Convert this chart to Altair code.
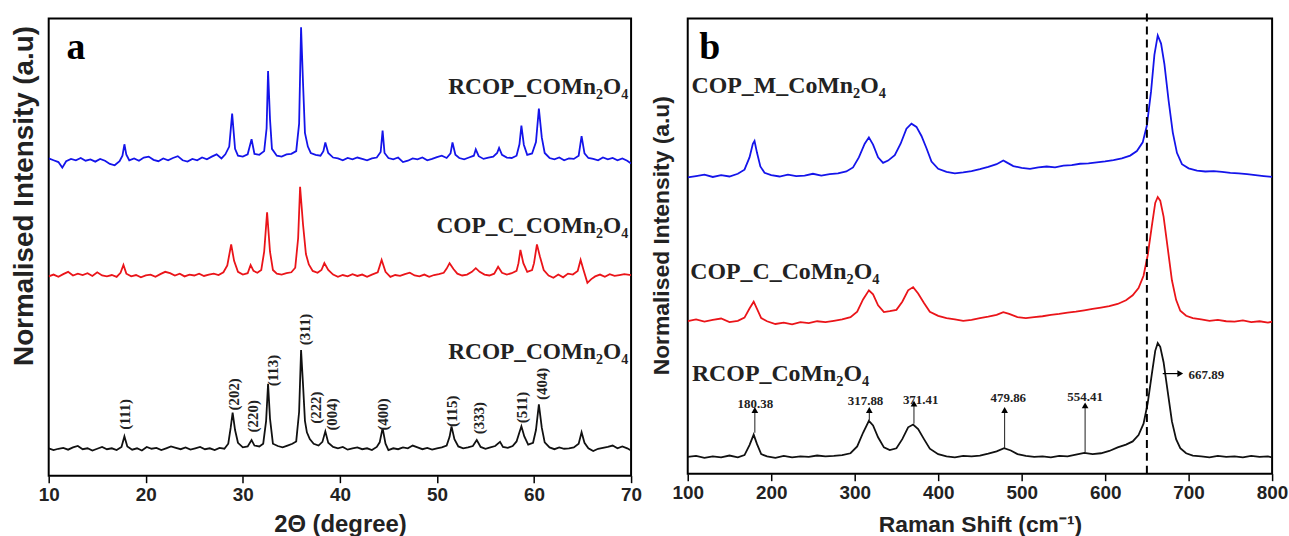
import altair as alt
import pandas as pd

# ---------------- Panel a: XRD ----------------
xrd_blue_x = [10.0, 10.5, 11.0, 11.4, 11.8, 12.3, 12.8, 13.3, 13.8, 14.3, 14.8, 15.3, 15.8, 16.3, 16.8, 17.3, 17.6, 17.8, 18.0, 18.3, 18.8, 19.3, 19.8, 20.3, 20.8, 21.3, 21.8, 22.3, 22.8, 23.3, 23.8, 24.3, 24.8, 25.3, 25.8, 26.3, 26.8, 27.3, 27.8, 28.2, 28.6, 28.9, 29.2, 29.5, 30.0, 30.5, 30.9, 31.2, 31.7, 32.2, 32.45, 32.6, 32.8, 33.0, 33.5, 34.0, 34.5, 35.0, 35.5, 35.8, 36.0, 36.2, 36.4, 36.7, 37.0, 37.5, 38.0, 38.3, 38.5, 38.8, 39.3, 39.8, 40.3, 40.8, 41.3, 41.8, 42.3, 42.8, 43.3, 43.8, 44.2, 44.4, 44.6, 45.0, 45.5, 46.0, 46.5, 47.0, 47.5, 48.0, 48.5, 49.0, 49.5, 50.0, 50.5, 51.0, 51.4, 51.6, 51.9, 52.3, 52.8, 53.3, 53.8, 54.0, 54.3, 54.8, 55.3, 55.8, 56.2, 56.4, 56.7, 57.2, 57.7, 58.2, 58.5, 58.7, 58.95, 59.3, 59.8, 60.2, 60.5, 60.8, 61.1, 61.6, 62.1, 62.6, 63.1, 63.6, 64.1, 64.6, 64.9, 65.2, 65.6, 66.1, 66.6, 67.1, 67.6, 68.1, 68.6, 69.1, 69.6, 70.0]
xrd_blue_y = [69.4, 69.0, 68.6, 67.4, 68.8, 69.3, 69.0, 69.5, 68.9, 69.2, 68.7, 69.3, 68.9, 68.2, 67.9, 68.8, 70.0, 72.5, 70.2, 69.0, 69.4, 68.9, 69.6, 69.8, 69.1, 68.8, 69.4, 69.0, 69.5, 69.9, 69.0, 68.7, 69.3, 69.0, 69.6, 69.2, 69.8, 70.3, 69.4, 70.3, 72.0, 79.2, 71.5, 70.0, 69.8, 70.3, 73.6, 70.4, 70.2, 71.0, 76.0, 88.5, 78.0, 71.5, 70.0, 69.8, 70.3, 70.4, 71.0, 77.0, 98.1, 86.0, 75.0, 72.0, 70.6, 70.2, 70.0, 71.0, 72.9, 70.6, 69.6, 69.4, 69.0, 69.5, 69.2, 69.6, 69.3, 69.0, 69.4, 69.6, 70.8, 75.5, 70.6, 69.5, 69.2, 69.6, 68.6, 68.9, 69.4, 69.2, 69.6, 69.0, 69.3, 69.7, 70.0, 69.5, 70.5, 72.9, 70.2, 69.5, 69.2, 69.6, 70.0, 71.4, 69.9, 69.3, 69.6, 69.8, 70.6, 71.7, 70.2, 69.6, 69.5, 70.0, 72.5, 76.6, 72.4, 70.2, 70.5, 73.0, 80.3, 74.0, 70.6, 69.5, 69.2, 69.6, 69.0, 69.4, 69.3, 70.0, 74.3, 70.5, 69.5, 69.3, 69.0, 69.6, 69.2, 69.5, 69.0, 69.4, 68.9, 68.3]

xrd_red_x = [10.0, 10.5, 11.0, 11.5, 12.0, 12.5, 13.0, 13.5, 14.0, 14.5, 15.0, 15.5, 16.0, 16.5, 17.0, 17.4, 17.7, 18.0, 18.5, 19.0, 19.5, 20.0, 20.5, 21.0, 21.5, 22.0, 22.5, 23.0, 23.5, 24.0, 24.5, 25.0, 25.5, 26.0, 26.5, 27.0, 27.5, 28.0, 28.4, 28.8, 29.1, 29.5, 30.0, 30.5, 30.8, 31.1, 31.5, 31.9, 32.2, 32.5, 32.8, 33.1, 33.5, 34.0, 34.5, 35.0, 35.4, 35.7, 35.9, 36.2, 36.5, 36.8, 37.2, 37.7, 38.1, 38.4, 38.8, 39.3, 39.8, 40.3, 40.8, 41.3, 41.8, 42.3, 42.8, 43.3, 43.9, 44.3, 44.7, 45.2, 45.7, 46.2, 46.7, 47.2, 47.7, 48.2, 48.7, 49.2, 49.7, 50.2, 50.7, 51.0, 51.3, 51.7, 52.1, 52.6, 53.1, 53.6, 54.0, 54.4, 54.9, 55.4, 55.9, 56.3, 56.7, 57.2, 57.7, 58.2, 58.4, 58.6, 58.9, 59.3, 59.8, 60.0, 60.3, 60.6, 61.0, 61.5, 62.0, 62.5, 63.0, 63.5, 64.0, 64.5, 64.8, 65.1, 65.5, 65.9, 66.3, 66.8, 67.3, 67.8, 68.3, 68.8, 69.3, 70.0]
xrd_red_y = [43.6, 44.0, 43.5, 44.1, 44.6, 43.8, 44.2, 43.9, 44.3, 43.7, 44.5, 43.8, 43.6, 43.9, 43.5, 44.4, 46.1, 44.2, 43.6, 43.9, 43.4, 43.8, 44.0, 43.5, 44.1, 44.6, 44.3, 43.8, 44.2, 43.6, 44.0, 43.8, 44.2, 43.7, 44.0, 44.2, 43.9, 44.5, 46.0, 50.6, 47.0, 44.6, 44.0, 44.3, 46.1, 44.8, 44.4, 45.0, 49.0, 57.6, 49.0, 45.0, 44.2, 44.0, 44.3, 44.5, 45.5, 52.0, 63.2, 55.0, 48.5, 46.2, 44.8, 44.4, 45.0, 46.5, 45.0, 44.0, 43.5, 43.9, 43.6, 44.1, 43.7, 44.0, 43.5, 44.0, 44.5, 47.2, 44.6, 43.5, 43.9, 43.7, 44.1, 44.4, 43.8, 43.6, 44.0, 43.5, 43.9, 44.1, 44.4, 45.3, 46.5, 45.2, 44.2, 43.8, 44.0, 44.6, 45.4, 44.6, 44.0, 43.8, 44.2, 45.7, 44.4, 44.0, 44.3, 44.8, 46.5, 49.4, 46.5, 44.6, 45.0, 46.5, 50.6, 48.0, 45.0, 43.8, 43.3, 44.0, 43.4, 44.2, 44.0, 44.8, 47.2, 45.0, 42.2, 43.0, 43.6, 44.0, 43.5, 44.1, 43.7, 43.9, 44.1, 43.9]

xrd_black_x = [10.0, 10.5, 11.0, 11.5, 12.0, 12.5, 13.0, 13.5, 14.0, 14.5, 15.0, 15.5, 16.0, 16.5, 17.0, 17.5, 17.8, 18.1, 18.6, 19.1, 19.6, 20.1, 20.6, 21.1, 21.6, 22.1, 22.6, 23.1, 23.6, 24.1, 24.6, 25.1, 25.6, 26.1, 26.6, 27.1, 27.6, 28.1, 28.5, 28.75, 28.95, 29.2, 29.5, 30.0, 30.5, 30.9, 31.2, 31.7, 32.1, 32.4, 32.6, 32.8, 33.1, 33.6, 34.1, 34.6, 35.1, 35.5, 35.8, 36.0, 36.2, 36.4, 36.6, 36.9, 37.3, 37.8, 38.2, 38.5, 38.8, 39.3, 39.8, 40.3, 40.8, 41.3, 41.8, 42.3, 42.8, 43.3, 43.8, 44.1, 44.4, 44.7, 45.0, 45.5, 46.0, 46.5, 47.0, 47.5, 48.0, 48.5, 49.0, 49.5, 50.0, 50.5, 51.0, 51.3, 51.5, 51.8, 52.2, 52.7, 53.2, 53.7, 54.1, 54.5, 55.0, 55.5, 56.0, 56.5, 56.8, 57.3, 57.8, 58.2, 58.5, 58.7, 59.0, 59.4, 59.9, 60.2, 60.5, 60.8, 61.1, 61.6, 62.1, 62.6, 63.1, 63.6, 64.1, 64.6, 64.9, 65.2, 65.6, 66.1, 66.6, 67.1, 67.6, 68.1, 68.6, 69.1, 69.6, 70.0]
xrd_black_y = [6.0, 5.6, 5.9, 6.1, 5.7, 6.2, 6.5, 5.8, 6.0, 5.5, 5.9, 6.3, 5.8, 6.0, 5.6, 6.3, 8.6, 6.4, 5.7, 6.0, 5.5, 6.3, 5.9, 6.1, 5.6, 6.0, 6.4, 6.1, 5.8, 6.2, 5.7, 6.0, 6.3, 5.8, 6.0, 5.6, 6.1, 5.9, 7.0, 10.5, 13.8, 10.0, 7.2, 6.2, 6.4, 7.8, 6.6, 6.4, 7.0, 12.0, 20.1, 12.5, 7.0, 6.5, 6.2, 6.6, 7.0, 7.5, 14.0, 27.5, 20.0, 12.0, 9.5, 8.0, 7.0, 6.6, 7.4, 9.7, 7.2, 6.3, 6.0, 6.3, 5.7, 6.0, 6.2, 5.8, 6.0, 5.6, 6.3, 7.3, 10.4, 7.0, 5.6, 6.0, 5.8, 6.2, 6.0, 6.6, 6.2, 5.8, 6.1, 5.7, 6.0, 6.2, 6.6, 8.5, 10.8, 8.0, 6.4, 6.0, 6.2, 6.5, 7.8, 6.3, 5.9, 6.2, 6.5, 7.4, 6.3, 6.1, 6.5, 7.5, 9.5, 10.8, 8.6, 6.8, 7.2, 10.0, 15.6, 10.5, 7.3, 6.2, 5.8, 6.2, 5.9, 6.0, 6.2, 7.0, 9.5, 7.2, 6.0, 5.4, 5.9, 6.1, 6.3, 6.6, 6.0, 6.4, 6.0, 5.5]

hkl_labels = ["(111)", "(202)", "(220)", "(113)", "(311)", "(222)", "(004)", "(400)", "(115)", "(333)", "(511)", "(404)"]
hkl_x = [17.9, 29.1, 31.05, 33.1, 36.4, 37.5, 39.2, 44.4, 51.6, 54.3, 58.8, 60.8]
hkl_y = [13.4, 17.8, 13.0, 23.0, 32.0, 14.9, 13.4, 13.4, 14.1, 12.6, 14.9, 20.1]

xrd_names = ["RCOP_COMn\u2082O\u2084", "COP_C_COMn\u2082O\u2084", "RCOP_COMn\u2082O\u2084"]
xrd_name_y = [85.1, 54.6, 27.1]
xrd_ticks = [10, 20, 30, 40, 50, 60, 70]

# ---------------- Panel b: Raman ----------------
ram_blue_x = [100, 110, 120, 130, 140, 150, 160, 168, 174, 178, 180, 183, 187, 192, 200, 210, 220, 230, 240, 250, 260, 270, 280, 290, 298, 305, 312, 317, 322, 328, 334, 340, 348, 355, 362, 368, 374, 380, 386, 392, 400, 410, 420, 430, 440, 450, 460, 470, 478, 482, 490, 500, 510, 520, 530, 540, 550, 560, 570, 580, 590, 600, 610, 620, 630, 638, 645, 650, 655, 659, 663, 667, 671, 676, 681, 686, 692, 700, 710, 720, 730, 740, 750, 760, 770, 780, 790, 800]
ram_blue_y = [65.1, 65.4, 65.7, 65.2, 65.6, 65.3, 65.9, 66.8, 69.5, 72.5, 73.1, 70.5, 67.5, 66.1, 65.6, 65.3, 65.7, 65.4, 65.5, 65.9, 65.5, 65.8, 66.0, 66.4, 67.3, 69.5, 72.5, 73.9, 72.3, 69.5, 68.3, 68.8, 70.0, 72.5, 75.8, 76.9, 76.2, 74.2, 71.5, 68.6, 67.0, 66.3, 66.0, 66.2, 66.5, 66.9, 67.4, 68.0, 68.8, 68.4, 67.6, 67.2, 67.0, 67.3, 67.5, 67.3, 67.7, 67.8, 68.1, 68.2, 68.4, 68.6, 68.9, 69.3, 69.9, 70.9, 72.8, 76.5, 84.0, 92.0, 96.3, 94.5, 90.0, 82.0, 75.0, 70.5, 68.0, 67.1, 66.6, 66.4, 66.5, 66.3, 66.1, 66.0, 65.8, 65.6, 65.4, 65.2]

ram_red_x = [100, 110, 120, 130, 140, 150, 160, 168, 174, 179, 183, 188, 195, 205, 215, 225, 235, 245, 255, 265, 275, 285, 295, 303, 310, 317, 322, 328, 335, 342, 350, 357, 364, 370, 376, 383, 390, 400, 410, 420, 430, 440, 450, 460, 470, 478, 485, 495, 505, 515, 525, 535, 545, 555, 565, 575, 585, 595, 605, 615, 625, 633, 640, 646, 651, 656, 660, 663, 666, 670, 675, 680, 685, 690, 697, 705, 715, 725, 735, 745, 755, 765, 775, 785, 795, 800]
ram_red_y = [33.5, 33.9, 33.4, 33.8, 34.1, 33.3, 33.6, 34.3, 36.3, 37.8, 36.2, 34.2, 33.5, 32.9, 33.2, 32.8, 33.3, 33.1, 33.5, 33.3, 33.6, 33.9, 34.4, 35.6, 38.3, 40.3, 39.4, 37.0, 35.5, 35.7, 36.0, 37.8, 40.3, 41.0, 39.6, 37.5, 35.6, 34.7, 34.2, 33.9, 33.6, 33.8, 34.2, 34.5, 34.9, 35.5, 35.1, 34.4, 34.2, 34.4, 34.6, 34.9, 35.1, 35.4, 35.6, 35.9, 36.2, 36.5, 36.8, 37.3, 38.1, 39.2, 40.8, 43.5, 48.0, 54.5, 59.5, 60.8, 60.0, 56.5, 49.5, 42.5, 38.2, 35.8, 34.7, 34.2, 33.9, 33.6, 33.8, 33.5, 33.4, 33.7, 33.3, 33.5, 33.2, 33.4]

ram_black_x = [100, 110, 120, 130, 140, 150, 160, 168, 174, 179, 183, 188, 195, 205, 215, 225, 235, 245, 255, 265, 275, 285, 295, 303, 310, 317, 322, 328, 335, 342, 350, 357, 364, 370, 376, 383, 390, 400, 410, 420, 430, 440, 450, 460, 470, 479, 487, 495, 505, 515, 525, 535, 545, 555, 565, 575, 585, 595, 605, 615, 625, 633, 640, 646, 651, 656, 660, 663, 666, 670, 675, 680, 685, 690, 697, 705, 715, 725, 735, 745, 755, 765, 775, 785, 795, 800]
ram_black_y = [3.7, 3.9, 3.5, 3.8, 3.6, 4.0, 3.6, 4.1, 6.3, 8.6, 6.5, 4.3, 3.8, 3.5, 3.9, 3.6, 3.8, 3.7, 4.0, 3.8, 3.9, 4.1, 4.5, 6.0, 9.0, 11.6, 10.6, 8.0, 5.8, 5.2, 5.6, 7.6, 10.2, 10.8, 9.8, 7.6, 5.5, 4.3, 3.8, 3.6, 3.9, 3.8, 4.0, 4.4, 4.9, 5.6, 5.1, 4.3, 3.9, 3.7, 3.8, 3.6, 3.9, 3.8, 4.2, 4.6, 4.3, 4.5, 5.0, 5.8, 6.4, 7.1, 8.5, 11.0, 15.5, 22.0, 27.0, 28.7, 27.9, 24.5, 18.0, 11.5, 7.6, 5.6, 4.5, 4.0, 3.8, 3.6, 3.9, 3.7, 3.8, 3.6, 3.9, 3.7, 3.8, 3.6]

peak_labels = ["180.38", "317.88", "371.41", "479.86", "554.41"]
peak_label_x = [181, 313, 379, 484, 576]
peak_label_y = [15.4, 15.9, 16.2, 16.6, 16.9]
arrow_x = [180.4, 317.5, 371.0, 479.6, 576.0]
arrow_y0 = [9.0, 11.8, 11.0, 5.7, 4.7]
arrow_y1 = [14.0, 14.0, 15.4, 14.0, 15.0]
main_peak_label = "667.89"
main_arrow_x = [669, 690]
main_arrow_y = 22.0

ram_names = ["COP_M_CoMn\u2082O\u2084", "COP_C_CoMn\u2082O\u2084", "RCOP_CoMn\u2082O\u2084"]
ram_name_y = [85.1, 44.4, 22.0]
ram_ticks = [100, 200, 300, 400, 500, 600, 700, 800]
dashed_x = 650

BLUE = "#1414ea"
RED = "#ea1419"
BLACK = "#111111"
SERIF = "Liberation Serif"
SANS = "Liberation Sans"
LW = 1.8


def line_layer(xs, ys, color, xscale, yscale, xaxis, yaxis):
    df = pd.DataFrame({"x": xs, "y": ys})
    return alt.Chart(df).mark_line(color=color, strokeWidth=LW, clip=True).encode(
        x=alt.X("x:Q", scale=xscale, axis=xaxis),
        y=alt.Y("y:Q", scale=yscale, axis=yaxis),
    )


# ---------------- build panel a ----------------
xs_a = alt.Scale(domain=[10, 70], nice=False, zero=False)
ys = alt.Scale(domain=[0, 100], nice=False, zero=False)

xaxis_a = alt.Axis(values=xrd_ticks, title="2\u0398 (degree)", grid=False, domain=False,
                   tickSize=7, tickWidth=1.5, tickColor="black", labelFlush=False, labelOverlap=False,
                   labelFont=SANS, labelFontWeight="bold", labelFontSize=19, labelColor="#222",
                   labelPadding=3, titleFont=SANS, titleFontWeight="bold", titleFontSize=24,
                   titleColor="#222", titleY=49, titleBaseline="middle")
yaxis_a = alt.Axis(labels=False, ticks=False, domain=False, grid=False,
                   title="Normalised Intensity (a.u)", titleFont=SANS, titleFontWeight="bold",
                   titleFontSize=28, titleColor="#222", titleX=-24, titleY=178,
                   titleAngle=270, titleAlign="center", titleBaseline="middle")

la = [
    line_layer(xrd_blue_x, xrd_blue_y, BLUE, xs_a, ys, xaxis_a, yaxis_a),
    line_layer(xrd_red_x, xrd_red_y, RED, xs_a, ys, xaxis_a, yaxis_a),
    line_layer(xrd_black_x, xrd_black_y, BLACK, xs_a, ys, xaxis_a, yaxis_a),
]
hkl_df = pd.DataFrame({"x": hkl_x, "y": hkl_y, "t": hkl_labels})
la.append(alt.Chart(hkl_df).mark_text(font=SERIF, fontSize=15, fontWeight="bold", angle=270,
                                      color="#222", align="center", baseline="middle").encode(
    x=alt.X("x:Q", scale=xs_a), y=alt.Y("y:Q", scale=ys), text="t:N"))
nm_a = pd.DataFrame({"x": [69.7] * 3, "y": xrd_name_y, "t": xrd_names})
la.append(alt.Chart(nm_a).mark_text(font=SERIF, fontSize=23.5, fontWeight="bold", color="#222",
                                    align="right", baseline="middle").encode(
    x=alt.X("x:Q", scale=xs_a), y=alt.Y("y:Q", scale=ys), text="t:N"))
la.append(alt.Chart(pd.DataFrame({"x": [12.8], "y": [93.5], "t": ["a"]})).mark_text(
    font=SERIF, fontSize=38, fontWeight="bold", color="black", align="center", baseline="middle").encode(
    x=alt.X("x:Q", scale=xs_a), y=alt.Y("y:Q", scale=ys), text="t:N"))

panel_a = alt.layer(*la).properties(width=586, height=460)

# ---------------- build panel b ----------------
xs_b = alt.Scale(domain=[100, 800], nice=False, zero=False)
xaxis_b = alt.Axis(values=ram_ticks, title="Raman Shift (cm\u207b\u00b9)", grid=False, domain=False,
                   tickSize=7, tickWidth=1.5, tickColor="black", labelFlush=False, labelOverlap=False,
                   labelFont=SANS, labelFontWeight="bold", labelFontSize=19, labelColor="#222",
                   labelPadding=3, titleFont=SANS, titleFontWeight="bold", titleFontSize=23,
                   titleColor="#222", titleY=51, titleBaseline="middle")
yaxis_b = alt.Axis(labels=False, ticks=False, domain=False, grid=False,
                   title="Normalised Intensity (a.u)", titleFont=SANS, titleFontWeight="bold",
                   titleFontSize=23, titleColor="#222", titleX=-26, titleY=218,
                   titleAngle=270, titleAlign="center", titleBaseline="middle")

lb = [
    line_layer(ram_blue_x, ram_blue_y, BLUE, xs_b, ys, xaxis_b, yaxis_b),
    line_layer(ram_red_x, ram_red_y, RED, xs_b, ys, xaxis_b, yaxis_b),
    line_layer(ram_black_x, ram_black_y, BLACK, xs_b, ys, xaxis_b, yaxis_b),
]
lb.append(alt.Chart(pd.DataFrame({"x": [dashed_x], "y": [0], "y2": [101.5]})).mark_rule(
    color="black", strokeWidth=2, strokeDash=[8, 5]).encode(
    x=alt.X("x:Q", scale=xs_b), y=alt.Y("y:Q", scale=ys), y2="y2:Q"))
arr_df = pd.DataFrame({"x": arrow_x, "y": arrow_y0, "y2": arrow_y1})
lb.append(alt.Chart(arr_df).mark_rule(color="black", strokeWidth=0.9).encode(
    x=alt.X("x:Q", scale=xs_b), y=alt.Y("y:Q", scale=ys), y2="y2:Q"))
lb.append(alt.Chart(arr_df).mark_point(shape="triangle-up", filled=True, color="black", size=45, opacity=1).encode(
    x=alt.X("x:Q", scale=xs_b), y=alt.Y("y2:Q", scale=ys)))
pl_df = pd.DataFrame({"x": peak_label_x, "y": peak_label_y, "t": peak_labels})
lb.append(alt.Chart(pl_df).mark_text(font=SERIF, fontSize=13, fontWeight="bold", color="#222",
                                     align="center", baseline="middle").encode(
    x=alt.X("x:Q", scale=xs_b), y=alt.Y("y:Q", scale=ys), text="t:N"))
ma_df = pd.DataFrame({"x": [main_arrow_x[0]], "x2": [main_arrow_x[1]], "y": [main_arrow_y]})
lb.append(alt.Chart(ma_df).mark_rule(color="black", strokeWidth=1.2).encode(
    x=alt.X("x:Q", scale=xs_b), x2="x2:Q", y=alt.Y("y:Q", scale=ys)))
lb.append(alt.Chart(pd.DataFrame({"x": [main_arrow_x[1]], "y": [main_arrow_y]})).mark_point(
    shape="triangle-right", filled=True, color="black", size=45, opacity=1).encode(
    x=alt.X("x:Q", scale=xs_b), y=alt.Y("y:Q", scale=ys)))
lb.append(alt.Chart(pd.DataFrame({"x": [700], "y": [21.6], "t": [main_peak_label]})).mark_text(
    font=SERIF, fontSize=13, fontWeight="bold", color="#222", align="left", baseline="middle").encode(
    x=alt.X("x:Q", scale=xs_b), y=alt.Y("y:Q", scale=ys), text="t:N"))
nm_b = pd.DataFrame({"x": [104.5, 103, 105], "y": ram_name_y, "t": ram_names})
lb.append(alt.Chart(nm_b).mark_text(font=SERIF, fontSize=24, fontWeight="bold", color="#222",
                                    align="left", baseline="middle").encode(
    x=alt.X("x:Q", scale=xs_b), y=alt.Y("y:Q", scale=ys), text="t:N"))
lb.append(alt.Chart(pd.DataFrame({"x": [126.5], "y": [93.5], "t": ["b"]})).mark_text(
    font=SERIF, fontSize=38, fontWeight="bold", color="black", align="center", baseline="middle").encode(
    x=alt.X("x:Q", scale=xs_b), y=alt.Y("y:Q", scale=ys), text="t:N"))

panel_b = alt.layer(*lb).properties(width=588, height=458)

chart = alt.hconcat(panel_a, panel_b, spacing=6).properties(
    padding={"left": 9, "top": 8, "right": 0, "bottom": 0},
    background="white",
).configure_view(stroke="black", strokeWidth=2)

chart.save("out.html", embed_options={"renderer": "svg", "actions": False})
